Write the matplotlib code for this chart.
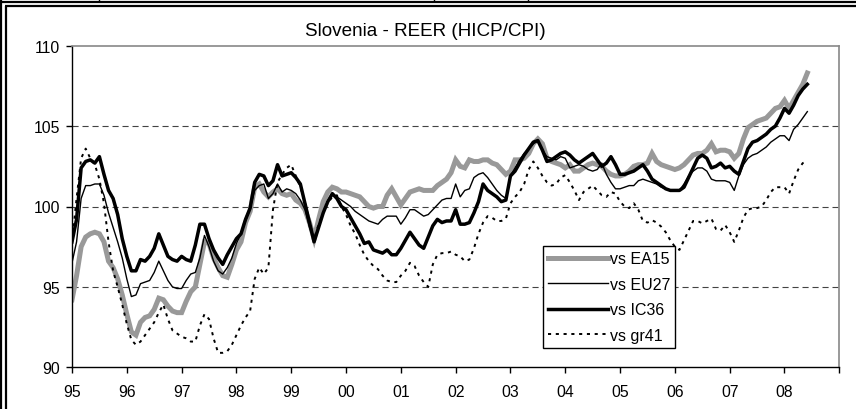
import numpy as np
import matplotlib.pyplot as plt
from matplotlib.lines import Line2D

# monthly REER index, Jan 1995 - Jun 2008
ea15 = [
    94.2, 95.7, 97.5, 98.1, 98.3, 98.4, 98.3, 97.8, 96.6, 96.2, 95.5, 94.5,
    93.3, 92.2, 92.0, 92.8, 93.1, 93.2, 93.6, 94.3, 94.2, 93.8, 93.5, 93.4,
    93.4, 94.1, 94.7, 95.0, 96.4, 97.8, 97.7, 96.8, 96.2, 95.7, 95.6, 96.4,
    97.3, 97.8, 99.0, 99.7, 101.2, 101.4, 100.9, 100.6, 100.9, 101.1, 100.8, 100.7,
    100.8, 100.4, 100.2, 99.8, 99.0, 98.0, 99.2, 100.3, 100.9, 101.2, 101.1, 100.9,
    100.9, 100.8, 100.7, 100.6, 100.3, 100.0, 99.9, 100.0, 100.0, 100.7, 101.1, 100.6,
    100.1, 100.5, 100.9, 101.0, 101.1, 101.0, 101.0, 101.0, 101.3, 101.5, 101.7, 102.1,
    102.9, 102.5, 102.4, 102.9, 102.8, 102.8, 102.9, 102.9, 102.7, 102.6, 102.3, 102.0,
    102.2, 102.9, 102.9, 103.0, 103.3, 103.9, 104.2, 103.9, 103.0, 102.8, 102.7, 102.6,
    102.4, 102.6, 102.2, 102.2, 102.4, 102.6, 102.7, 102.6, 102.5, 102.2, 102.0, 101.9,
    101.9, 102.0, 102.2, 102.5, 102.6, 102.6, 102.7, 103.3, 102.8, 102.6, 102.5, 102.4,
    102.3, 102.4, 102.6, 102.9, 103.2, 103.3, 103.3, 103.5, 103.9, 103.4, 103.5, 103.5,
    103.4, 103.0, 103.3, 104.2, 104.9, 105.1, 105.3, 105.4, 105.5, 105.8, 106.1, 106.2,
    106.6, 106.1, 106.6, 107.1, 107.6, 108.3]

eu27 = [
    96.5, 97.8, 100.5, 101.3, 101.3, 101.4, 101.4, 100.7, 99.6, 98.7, 97.8, 96.8,
    95.5, 94.4, 94.5, 95.2, 95.3, 95.4, 95.9, 96.6, 96.0, 95.4, 95.0, 94.9,
    94.9, 95.4, 95.8, 95.9, 96.8, 98.2, 97.5, 96.6, 96.0, 95.8, 96.2, 96.8,
    97.7, 98.3, 99.1, 99.9, 101.0, 101.3, 101.4, 100.5, 100.8, 101.4, 100.9, 101.1,
    101.0, 100.8, 100.4, 99.8, 98.7, 97.9, 98.7, 99.6, 100.3, 100.8, 100.6, 100.4,
    100.2, 100.0, 99.7, 99.5, 99.3, 99.1, 99.0, 98.9, 99.2, 99.4, 99.4, 99.4,
    98.9, 99.3, 99.8, 99.8, 99.6, 99.4, 99.5, 99.8, 100.1, 100.4, 100.5, 100.5,
    101.4, 100.6, 101.0, 101.1, 101.8, 102.0, 102.1, 101.8, 101.4, 101.0, 100.7, 100.5,
    101.9, 102.4, 102.9, 103.3, 103.6, 103.9, 104.1, 103.5, 103.1, 103.0, 102.9, 103.1,
    103.0, 102.4, 102.5, 102.6, 102.5, 102.3, 102.2, 102.3, 102.7, 102.0, 101.5, 101.1,
    101.1, 101.2, 101.3, 101.3, 101.6, 101.7, 101.6, 101.5, 101.4, 101.2, 101.1, 101.0,
    101.0, 101.0, 101.4, 101.9, 102.2, 102.4, 102.4, 102.2, 101.7, 101.6, 101.6, 101.6,
    101.5, 101.0, 101.9, 102.6, 103.0, 103.2, 103.3, 103.5, 103.7, 104.0, 104.2, 104.4,
    104.4, 104.1, 104.8, 105.1, 105.5, 105.9]

ic36 = [
    97.8, 99.2, 102.4, 102.8, 102.9, 102.7, 103.1, 102.0, 101.0, 100.5, 99.5, 98.0,
    96.9, 96.0, 96.0, 96.7, 96.6, 96.9, 97.4, 98.3, 97.6, 96.9, 96.7, 96.6,
    96.9, 96.7, 96.6, 97.6, 98.9, 98.9, 98.0, 97.3, 96.8, 96.4, 97.0, 97.5,
    98.0, 98.3, 99.2, 99.9, 101.5, 102.0, 101.9, 101.3, 101.6, 102.6, 101.9, 102.0,
    102.1, 101.8, 101.4, 100.2, 99.0, 97.8, 98.7, 99.6, 100.3, 100.8, 100.5, 100.0,
    99.8, 99.3, 98.8, 98.3, 97.7, 97.8, 97.3, 97.2, 97.1, 97.3, 97.0, 97.0,
    97.4, 97.9, 98.4, 98.0, 97.6, 97.4, 98.1, 98.8, 99.2, 99.0, 99.1, 99.1,
    99.8, 98.9, 98.9, 99.0, 99.6, 100.3, 101.4, 101.0, 100.8, 100.6, 100.3, 100.4,
    101.9, 102.2, 102.7, 103.2, 103.6, 104.0, 104.1, 103.5, 102.8, 102.9, 103.1, 103.3,
    103.4, 103.2, 102.9, 102.7, 102.9, 103.1, 103.3, 102.9, 102.5, 102.7, 103.1, 102.6,
    102.0, 102.0, 102.1, 102.2, 102.4, 102.6, 102.2, 101.7, 101.5, 101.3, 101.1, 101.0,
    101.0, 101.0, 101.2, 101.8, 102.4, 103.0, 103.2, 103.0, 102.4, 102.5, 102.7, 102.4,
    102.5, 102.2, 102.0, 102.8, 103.6, 104.0, 104.1, 104.3, 104.5, 104.8, 105.0, 105.5,
    106.1, 105.8, 106.3, 106.9, 107.3, 107.6]

gr41 = [
    97.8, 100.5, 103.0, 103.6, 103.0, 102.6, 101.7, 100.2, 97.8, 96.0, 95.0, 93.9,
    92.7, 91.7, 91.4, 91.6, 92.0, 92.4, 92.8, 93.4, 93.9, 93.0, 92.3, 92.1,
    91.9, 91.8, 91.6, 91.6, 92.6, 93.3, 93.0, 91.8, 90.9, 90.9, 91.0, 91.4,
    92.0, 92.6, 93.1, 93.5, 95.5, 96.2, 95.8, 96.2, 99.8, 101.5, 102.0, 102.4,
    102.6, 101.9, 101.2, 100.3, 99.0, 98.0, 98.9, 99.6, 100.2, 100.6, 100.7, 100.0,
    99.5, 98.8, 98.3, 97.6, 97.0, 96.6, 96.3, 96.1, 95.7, 95.4, 95.3, 95.3,
    95.7, 96.0, 96.5, 96.3, 95.7, 95.3, 95.0, 96.4, 97.0, 97.1, 97.1, 97.2,
    97.0, 96.9, 96.6, 96.7, 97.4, 98.3, 99.0, 99.4, 99.3, 99.1, 99.1, 99.25,
    100.2, 100.6, 100.9, 101.4, 102.3, 102.8, 102.4, 101.9, 101.5, 101.3, 101.4, 101.8,
    101.95, 101.5, 101.0, 100.4, 100.9, 101.1, 101.3, 101.0, 100.7, 100.6, 100.9, 100.8,
    100.3, 100.0, 99.9, 100.2, 99.8, 99.1, 99.0, 99.15, 99.0, 98.75, 98.4, 97.9,
    97.5, 97.3, 97.9, 98.5, 99.1, 99.1, 98.95, 99.1, 99.25, 98.6, 98.5, 98.85,
    98.4, 97.8, 98.5, 99.3, 99.8, 99.9, 99.9, 100.0, 100.4, 100.9, 101.2, 101.2,
    101.2, 100.8, 101.6, 102.3, 102.7, 102.8]

year_labels = ['95', '96', '97', '98', '99', '00', '01', '02', '03', '04',
               '05', '06', '07', '08', '']

plt.rcParams['font.family'] = ['Liberation Sans', 'DejaVu Sans']

W, H = 856, 410
fig = plt.figure(figsize=(W / 100, H / 100), dpi=100)
ax = fig.add_axes([72 / W, 1 - 368.3 / H, (839.3 - 72) / W, (368.3 - 46.7) / H])

# months on a year axis (95 = Jan 1995)
x = 95 + np.arange(len(ea15)) / 12

ax.plot(x, ea15, color='#999999', lw=3.6, label='vs EA15', solid_joinstyle='miter')
ax.plot(x, eu27, color='black', lw=1.0, label='vs EU27')
ax.plot(x, ic36, color='black', lw=2.5, label='vs IC36')
ax.plot(x, gr41, color='black', lw=1.4, linestyle=(0, (1.6, 2.4)), label='vs gr41')

ax.set_xlim(95, 109)
ax.set_ylim(90, 110)
ax.set_xticks(np.arange(95, 110))
ax.set_xticklabels(year_labels)
ax.set_yticks([90, 95, 100, 105, 110])

for v in [95, 100, 105]:
    ax.axhline(v, color='#444444', lw=0.8, linestyle=(0, (5.5, 3.5)), zorder=0)

for s in ['top', 'right']:
    ax.spines[s].set_color('#888888')
    ax.spines[s].set_linewidth(1.2)
for s in ['left', 'bottom']:
    ax.spines[s].set_color('black')
    ax.spines[s].set_linewidth(1.0)
ax.tick_params(direction='out', length=4, width=1, labelsize=11.3, colors='black')
ax.tick_params(axis='x', pad=8)
ax.tick_params(axis='y', pad=4.5)

fig.text(425 / W, 1 - 31 / H, 'Slovenia - REER (HICP/CPI)', ha='center', va='center', fontsize=13.6)

leg = ax.legend(loc='upper right', bbox_to_anchor=(675.3 / W, 1 - 247.3 / H),
                bbox_transform=fig.transFigure, fontsize=11.5, handlelength=3.75,
                handletextpad=0.12, labelspacing=0.66, borderpad=0.32,
                borderaxespad=0, fancybox=False, framealpha=1, edgecolor='black')
leg.get_frame().set_linewidth(1.0)

# page border lines around the chart
def px_line(x0, y0, x1, y1, lw):
    fig.add_artist(Line2D([x0 / W, x1 / W], [1 - y0 / H, 1 - y1 / H],
                          transform=fig.transFigure, color='black', lw=lw,
                          solid_capstyle='butt'))

px_line(1.2, 0, 1.2, H, 1.6)
px_line(5.8, 7, 5.8, H, 1.6)
px_line(1, 3, W, 3, 1.6)
px_line(5, 7.2, W, 7.2, 1.6)
for xv in [99, 434, 527.5]:
    px_line(xv, 0, xv, 3, 1.0)

fig.savefig('out.png', dpi=100)
